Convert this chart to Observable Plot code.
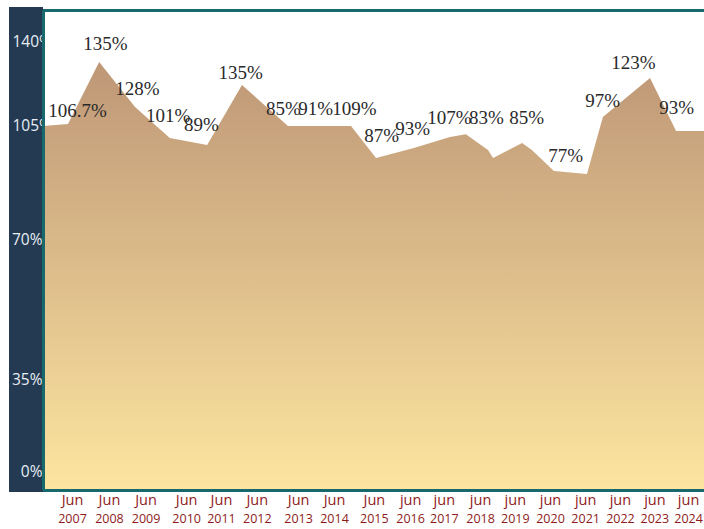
<!DOCTYPE html>
<html><head><meta charset="utf-8">
<script src="https://cdn.jsdelivr.net/npm/d3@7"></script>
<script src="https://cdn.jsdelivr.net/npm/@observablehq/plot@0.6"></script>
<style>body{margin:0;background:#fff} #chart svg{display:block}</style>
</head><body><div id="chart"></div>
<script>
// Area outline (x in years, y in %)
const areaX = [2006.20, 2006.89, 2007.75, 2008.74, 2009.70, 2010.73, 2011.69, 2012.96, 2014.70, 2015.39, 2016.41, 2017.43, 2017.87, 2018.48, 2018.62, 2019.42, 2019.69, 2020.30, 2021.21, 2021.65, 2022.95, 2023.67, 2024.44];
const areaV = [105, 105.8, 131.7, 112.9, 101.3, 99.2, 122.1, 105, 105, 95.2, 98.2, 101.6, 102.5, 97.6, 95.2, 99.8, 97.6, 91.2, 90.3, 108.8, 125.0, 103.5, 103.5];

// Value annotations
const labelText = ["106.7%","135%","128%","101%","89%","135%","85%","91%","109%","87%","93%","107%","83%","85%","77%","97%","123%","93%"];
const labelX = [2007.14, 2007.91, 2008.79, 2009.64, 2010.56, 2011.64, 2012.82, 2013.71, 2014.78, 2015.53, 2016.39, 2017.40, 2018.42, 2019.53, 2020.61, 2021.63, 2022.48, 2023.67];
const labelY = [111.7, 139.6, 120.8, 109.6, 105.8, 127.5, 112.5, 112.5, 112.5, 102.2, 104.4, 108.75, 108.75, 108.75, 96.1, 115.8, 131.7, 112.9];

// Axis ticks
const yTicks = [0, 35, 70, 105, 140];
const xTickPos = [2007.00, 2008.02, 2009.03, 2010.15, 2011.11, 2012.10, 2013.24, 2014.23, 2015.33, 2016.33, 2017.26, 2018.26, 2019.22, 2020.19, 2021.16, 2022.12, 2023.07, 2024.00];
const xTickMonth = ["Jun","Jun","Jun","Jun","Jun","Jun","Jun","Jun","Jun","jun","jun","jun","jun","jun","jun","jun","jun","jun"];
const xTickYear = ["2007","2008","2009","2010","2011","2012","2013","2014","2015","2016","2017","2018","2019","2020","2021","2022","2023","2024"];

const xDomain = [2006.20, 2024.44];
const yMin = -6.8, yMax = 153.3;
const teal = "#17696e";
const red = "#8e1b1b";

const areaData = areaX.map((x, i) => ({x, v: areaV[i]}));
const labels = labelText.map((t, i) => ({t, x: labelX[i], y: labelY[i]}));

function backdrop(index, scales, values, dims) {
  const g = d3.create("svg:g");
  const lg = g.append("defs").append("linearGradient")
    .attr("id", "areaGrad").attr("gradientUnits", "userSpaceOnUse")
    .attr("x1", 0).attr("x2", 0)
    .attr("y1", scales.y(d3.max(areaV))).attr("y2", scales.y(yMin));
  lg.append("stop").attr("offset", "0%").attr("stop-color", "#be9777");
  lg.append("stop").attr("offset", "100%").attr("stop-color", "#fde5a0");
  g.append("rect")
    .attr("x", 9).attr("y", 7)
    .attr("width", dims.marginLeft - 9)
    .attr("height", dims.height - dims.marginBottom + 2 - 7)
    .attr("fill", "#233a52");
  return g.node();
}

const chart = Plot.plot({
  width: 704,
  height: 529,
  marginLeft: 43,
  marginRight: 0,
  marginTop: 10,
  marginBottom: 39,
  x: {domain: xDomain, axis: null},
  y: {type: "linear", domain: [yMin, 0, 35, 70, 105, 140, yMax], range: [490, 472, 380, 240, 126, 42, 10], axis: null},
  style: {background: "transparent"},
  marks: [
    backdrop,
    Plot.text(yTicks.filter(d => d < 100), {y: d => d, text: d => `${d}%`, frameAnchor: "left", textAnchor: "end", dx: -1, fill: "#e8eef4", fontSize: 15.5, fontFamily: "Open Sans"}),
    Plot.text(yTicks.filter(d => d >= 100), {y: d => d, text: d => `${d}%`, frameAnchor: "left", textAnchor: "start", dx: -31, fill: "#e8eef4", fontSize: 15.5, fontFamily: "Open Sans"}),
    Plot.frame({fill: "white", stroke: "none"}),
    Plot.areaY(areaData, {x: "x", y1: () => yMin, y2: "v", fill: "url(#areaGrad)"}),
    Plot.ruleX([xDomain[0]], {stroke: teal, strokeWidth: 3}),
    Plot.ruleY([yMin, yMax], {stroke: teal, strokeWidth: 3}),
    Plot.text(labels, {x: "x", y: "y", text: "t", fill: "#2a2a2a", fontSize: 19, fontFamily: "Liberation Serif"}),
    Plot.text(xTickPos, {x: d => d, text: (d, i) => xTickMonth[i], frameAnchor: "bottom", dy: 14, fill: red, fontSize: 14.5, fontFamily: "Open Sans"}),
    Plot.text(xTickPos, {x: d => d, text: (d, i) => xTickYear[i], frameAnchor: "bottom", dy: 32, fill: red, fontSize: 12.5, fontFamily: "Open Sans"})
  ]
});
document.getElementById("chart").appendChild(chart);
</script>
</body></html>
